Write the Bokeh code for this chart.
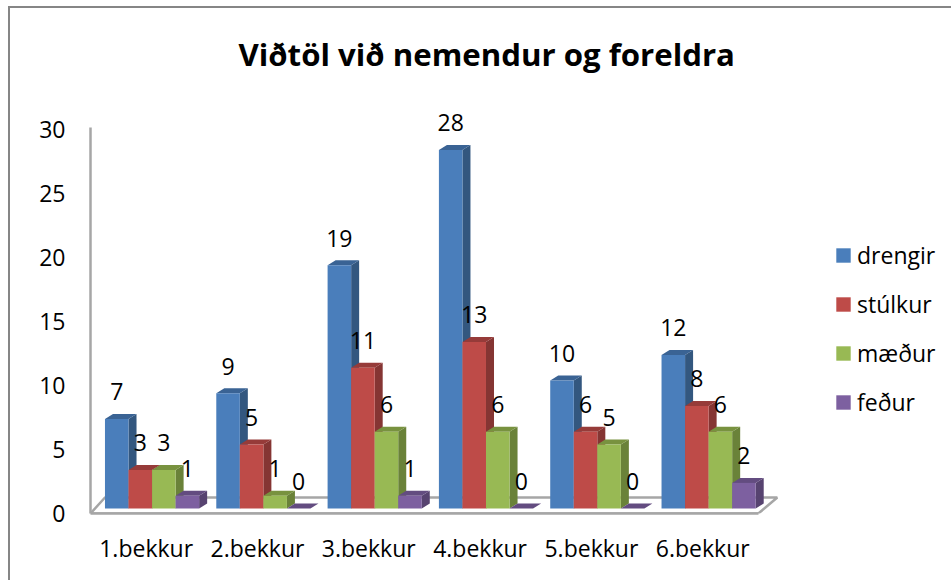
from bokeh.plotting import figure
from bokeh.models import (ColumnDataSource, FixedTicker, Legend, LegendItem, Title)
from bokeh.core.properties import value
from bokeh.embed import file_html
from bokeh.resources import INLINE

categories = ["1.bekkur", "2.bekkur", "3.bekkur", "4.bekkur", "5.bekkur", "6.bekkur"]
drengir = [7, 9, 19, 28, 10, 12]
stulkur = [3, 5, 11, 13, 6, 8]
maedur = [3, 1, 6, 6, 5, 6]
fedur = [1, 0, 1, 0, 0, 2]
series_names = ["drengir", "stúlkur", "mæður", "feður"]
series_values = [drengir, stulkur, maedur, fedur]
front_colors = ["#4a7ebb", "#be4b48", "#98b954", "#7d60a0"]
side_colors = ["#33577f", "#853533", "#6a8239", "#574370"]
top_colors = ["#3a6394", "#963b39", "#78923f", "#634c80"]

FONT = "Open Sans"
GREY = "#a6a6a6"
BAR_W = 0.2115        # one bar, in category units
GROUP_LEFT = -0.37    # left edge of a group, relative to its tick
DEPTH_X = 0.072       # oblique depth of a bar
DEPTH_Y = 0.39
LABEL_GAP = 2.13

frame_line = "linear-gradient(#868686,#868686)"
p = figure(width=951, height=580, output_backend="svg", toolbar_location=None,
           x_range=(-0.5, 7.235), y_range=(0, 32.03),
           min_border_left=90, min_border_right=0, min_border_top=103, min_border_bottom=67,
           outline_line_color=None, background_fill_color=None, border_fill_color=None,
           styles={"background": f"{frame_line} 8px 6px/943px 2px no-repeat, "
                                 f"{frame_line} 8px 6px/2px 574px no-repeat, white"})
p.grid.visible = False

p.title = Title(text="Viðtöl við nemendur og foreldra", align="left", offset=148, standoff=58,
                text_font=FONT, text_font_size="31.2px", text_font_style="bold", text_color="black")

# floor of the 3D box
p.patch([-0.5, -0.5 + 0.13, 5.5 + 0.17, 5.5], [0, 1.25, 1.25, 0],
        fill_color="white", line_color=GREY, line_width=2.5)

legend_items = []
for s, (name, vals) in enumerate(zip(series_names, series_values)):
    lefts = [i + GROUP_LEFT + s * BAR_W for i in range(len(vals))]
    rights = [l + BAR_W for l in lefts]
    tops = [v + DEPTH_Y for v in vals]
    side_x = [[r, r + DEPTH_X, r + DEPTH_X, r] for r in rights]
    side_y = [[DEPTH_Y, 2 * DEPTH_Y, t + DEPTH_Y, t] for t in tops]
    top_x = [[l, l + DEPTH_X, r + DEPTH_X, r] for l, r in zip(lefts, rights)]
    top_y = [[t, t + DEPTH_Y, t + DEPTH_Y, t] for t in tops]
    p.patches(side_x, side_y, fill_color=side_colors[s], line_color=None)
    p.patches(top_x, top_y, fill_color=top_colors[s], line_color=None)
    src = ColumnDataSource(dict(l=lefts, r=rights, t=tops, b=[DEPTH_Y] * len(vals)))
    bars = p.quad(left="l", right="r", top="t", bottom="b", source=src,
                  fill_color=front_colors[s], line_color=None)
    legend_items.append(LegendItem(label=name, renderers=[bars]))

# data labels drawn after all bars
for s, vals in enumerate(series_values):
    centers = [i + GROUP_LEFT + (s + 0.5) * BAR_W for i in range(len(vals))]
    ys = [v + DEPTH_Y + LABEL_GAP for v in vals]
    p.text(centers, ys, text=[str(v) for v in vals], text_font=value(FONT), text_font_size="23px",
           text_color="black", text_align="center", text_baseline="middle")

legend = Legend(items=legend_items, location=(744, 95), background_fill_alpha=0, border_line_color=None,
                padding=0, margin=0, spacing=17, glyph_width=18, glyph_height=18, label_standoff=5,
                label_text_font=FONT, label_text_font_size="23px", label_text_color="black",
                label_height=16)
p.add_layout(legend, "center")

for ax in (p.xaxis[0], p.yaxis[0]):
    ax.axis_line_color = GREY
    ax.axis_line_width = 2.5
    ax.major_tick_line_color = None
    ax.minor_tick_line_color = None
    ax.major_label_text_font = FONT
    ax.major_label_text_font_size = "23px"
    ax.major_label_text_color = "black"

p.xaxis[0].bounds = (-0.5, 5.5)
p.xaxis[0].ticker = FixedTicker(ticks=list(range(len(categories))))
p.xaxis[0].major_label_overrides = {i: c for i, c in enumerate(categories)}
p.xaxis[0].major_label_standoff = 12
p.yaxis[0].bounds = (0, 30.15)
p.yaxis[0].ticker = FixedTicker(ticks=[0, 5, 10, 15, 20, 25, 30])
p.yaxis[0].major_label_standoff = 19

open("out.html", "w").write(file_html(p, INLINE))
